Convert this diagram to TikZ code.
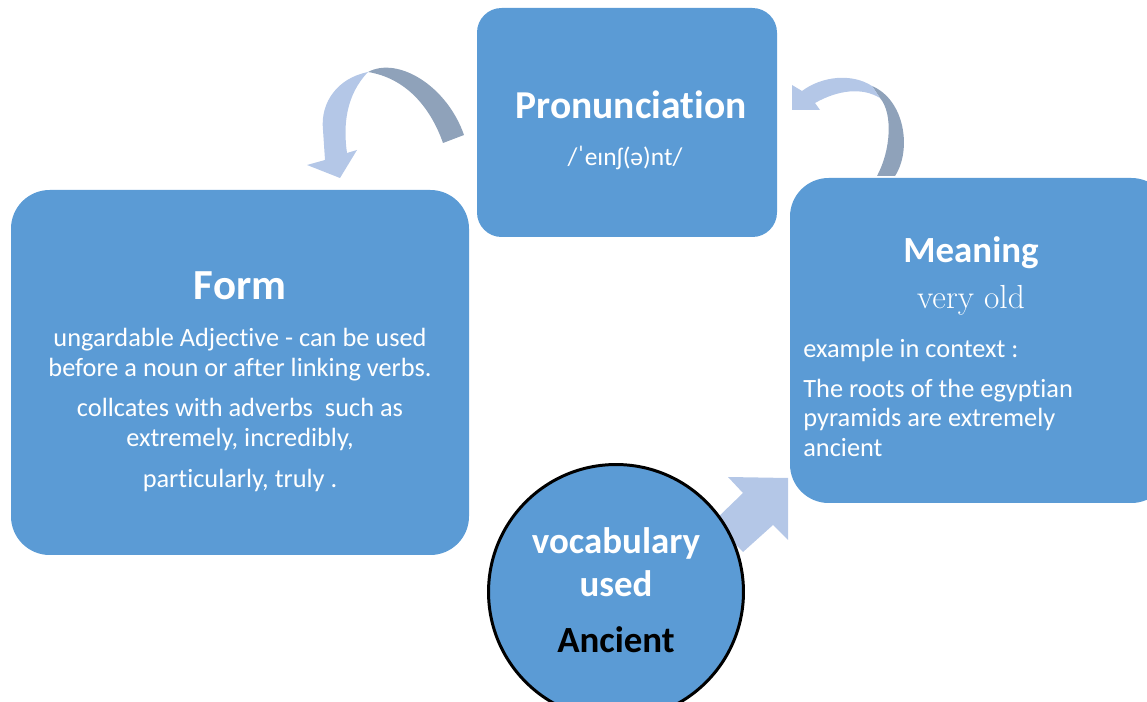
\documentclass[tikz,border=0pt]{standalone}
\usepackage{fontspec}
\newfontfamily\calibri[Ligatures=NoCommon]{Carlito}
\usetikzlibrary{positioning}
\definecolor{boxblue}{HTML}{5B9BD5}
\definecolor{arrowlight}{HTML}{B4C7E7}
\definecolor{arrowdark}{HTML}{8FA2BA}

\begin{document}
\begin{tikzpicture}[x=0.02cm, y=-0.02cm,
  heading/.style={white, inner sep=0pt, font=\calibri\bfseries\fontsize{21}{25}\selectfont},
  body/.style={white, inner sep=0pt, font=\calibri\fontsize{15}{18}\selectfont}]
\useasboundingbox (0,0) rectangle (1147,702);

% curved arrow, top left
\fill[arrowdark] (368,72) .. controls (398,56) and (447,86) .. (464,135) -- (443,143) .. controls (430,106) and (405,78) .. (368,72) -- cycle;
\fill[arrowlight] (368,72) .. controls (338,78) and (320,102) .. (323,130) -- (325,160) -- (307,165) -- (340,178) -- (357,150) -- (347,153) .. controls (343,125) and (346,95) .. (368,72) -- cycle;

% curved arrow, top right
\fill[arrowdark] (872,86) .. controls (905,100) and (912,150) .. (895,176) -- (877,176) .. controls (891,150) and (893,113) .. (880,98) -- cycle;
\fill[arrowlight] (872,86) .. controls (852,73) and (822,76) .. (802,91) -- (792,85) -- (792,110) -- (820,110) -- (815,103) .. controls (838,90) and (862,87) .. (880,98) -- cycle;

% block arrow to Meaning
\fill[arrowlight] (788,478) -- (788,540) -- (773,525) -- (743,552) -- (713,522) -- (743,493) -- (728,477) -- cycle;

% Pronunciation
\fill[boxblue, rounded corners=14pt] (477,8) rectangle (777,237);
\node[heading, anchor=base, font=\calibri\bfseries\fontsize{22.5}{26}\selectfont] (pron) at (631,119) {Pronunciation};
\node[body, anchor=base, font=\calibri\fontsize{14.5}{17}\selectfont] (ipa) at (625,166) {/ˈeɪnʃ(ə)nt/};

% Form
\fill[boxblue, rounded corners=22pt] (11,190) rectangle (469,555);
\node[heading, anchor=base, font=\calibri\bfseries\fontsize{24.4}{28}\selectfont] (form) at (240,300) {Form};
\node[body, anchor=base] (form1) at (240,347) {ungardable Adjective - can be used};
\node[body, anchor=base] (form2) at (240,377) {before a noun or after linking verbs.};
\node[body, anchor=base] (form3) at (240,417) {collcates with adverbs\ \ such as};
\node[body, anchor=base] (form4) at (240,447) {extremely, incredibly,};
\node[body, anchor=base] (form5) at (240,488) {particularly, truly .};

% Meaning
\fill[boxblue, rounded corners=22pt] (790,178) rectangle (1170,503);
\node[heading, anchor=base] (mean) at (971,263) {Meaning};
\node[white, inner sep=0pt, anchor=base, font=\fontsize{19}{22}\selectfont] (old) at (971,309) {very old};
\node[body, anchor=base west] (ex1) at (803,358) {example in context :};
\node[body, anchor=base west] (ex2) at (803,398) {The roots of the egyptian};
\node[body, anchor=base west] (ex3) at (803,427) {pyramids are extremely};
\node[body, anchor=base west] (ex4) at (803,457) {ancient};

% vocabulary used
\node[circle, fill=boxblue, draw=black, line width=1.7pt, minimum size=5.1cm] (vocab) at (616,592) {};
\node[heading, anchor=base] (voc1) at (616,554) {vocabulary};
\node[heading, anchor=base] (voc2) at (616,597) {used};
\node[heading, anchor=base, black] (word) at (616,653) {Ancient};
\end{tikzpicture}
\end{document}
